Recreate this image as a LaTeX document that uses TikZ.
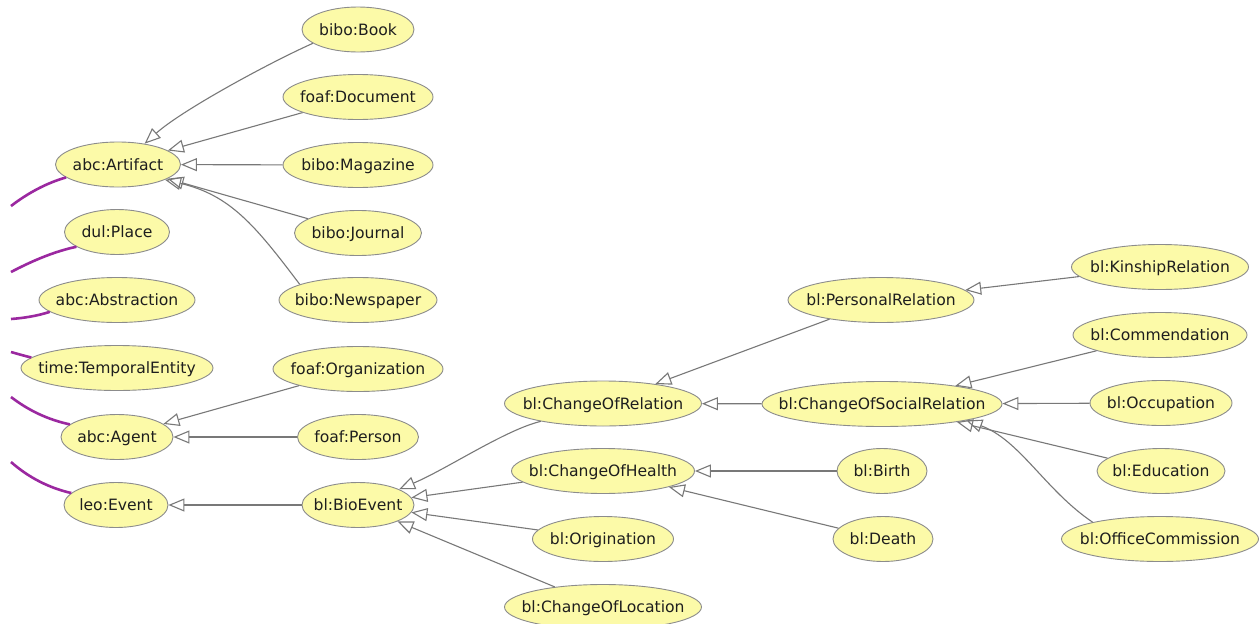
\documentclass[tikz,border=0pt]{standalone}
\usepackage{fontspec}
\newfontfamily\lblfont{DejaVu Sans}
\usetikzlibrary{shapes.geometric,arrows.meta}
\definecolor{ellfill}{RGB}{252,250,168}
\definecolor{ellline}{RGB}{140,140,140}
\definecolor{edgegray}{RGB}{120,120,120}
\definecolor{supc}{RGB}{155,40,160}
\definecolor{txt}{RGB}{30,30,30}
\newcommand\zw[1]{\hbox to 0pt{\hss#1\hss}}
\begin{document}
\begin{tikzpicture}[x=1pt,y=-1pt,
 cls/.style={ellipse, draw=ellline, fill=ellfill, line width=0.9pt, minimum height=45pt, inner sep=0pt, text height=11.4pt, text depth=0pt, text=txt, font=\lblfont\fontsize{15.6pt}{18pt}\selectfont},
 isa/.style={draw=edgegray, line width=1.1pt, -{Triangle[open,length=16pt,width=13pt]}},
 link/.style={draw=supc, line width=2.6pt},
]
\useasboundingbox (0,0) rectangle (1259,624);
\clip (0,0) rectangle (1259,624);
\fill[white] (0,0) rectangle (1259,624);

% nodes
\node[cls, minimum width=112pt] (book) at (358,29.5) {\zw{bibo:Book}};
\node[cls, minimum width=150pt] (doc) at (358,97) {\zw{foaf:Document}};
\node[cls, minimum width=150pt] (mag) at (358,165) {\zw{bibo:Magazine}};
\node[cls, minimum width=127pt] (jour) at (358,233) {\zw{bibo:Journal}};
\node[cls, minimum width=158pt] (news) at (358,300) {\zw{bibo:Newspaper}};
\node[cls, minimum width=125pt] (art) at (118,164.5) {\zw{abc:Artifact}};
\node[cls, minimum width=105pt] (place) at (117,232) {\zw{dul:Place}};
\node[cls, minimum width=156pt] (abs) at (117,300) {\zw{abc:Abstraction}};
\node[cls, minimum width=192pt] (temp) at (117,368) {\zw{time:TemporalEntity}};
\node[cls, minimum width=112pt] (agent) at (117,437) {\zw{abc:Agent}};
\node[cls, minimum width=104pt] (event) at (116,505) {\zw{leo:Event}};
\node[cls, minimum width=170pt] (org) at (358,369) {\zw{foaf:Organization}};
\node[cls, minimum width=121pt] (person) at (358,437) {\zw{foaf:Person}};
\node[cls, minimum width=112pt] (bio) at (358,505) {\zw{bl:BioEvent}};
\node[cls, minimum width=197pt] (cor) at (603,403.5) {\zw{bl:ChangeOfRelation}};
\node[cls, minimum width=183pt] (coh) at (603,471) {\zw{bl:ChangeOfHealth}};
\node[cls, minimum width=141pt] (orig) at (603,539) {\zw{bl:Origination}};
\node[cls, minimum width=197pt] (col) at (603,607) {\zw{bl:ChangeOfLocation}};
\node[cls, minimum width=177pt] (kin) at (1160,267) {\zw{bl:KinshipRelation}};
\node[cls, minimum width=186pt] (pers) at (881,300) {\zw{bl:PersonalRelation}};
\node[cls, minimum width=174pt] (comm) at (1160,335) {\zw{bl:Commendation}};
\node[cls, minimum width=240pt] (csr) at (882,404) {\zw{bl:ChangeOfSocialRelation}};
\node[cls, minimum width=142pt] (occ) at (1161,403) {\zw{bl:Occupation}};
\node[cls, minimum width=90pt] (birth) at (882,471) {\zw{bl:Birth}};
\node[cls, minimum width=128pt] (edu) at (1161,471) {\zw{bl:Education}};
\node[cls, minimum width=100pt] (death) at (883,539) {\zw{bl:Death}};
\node[cls, minimum width=197pt] (oc) at (1160,539) {\zw{bl:OfficeCommission}};

% subclass edges
\path[isa] (book.197) .. controls (267.7,63.5) and (181.3,110.6) .. (art.38);
\path[isa] (doc) -- (art);
\path[isa] (mag) -- (art);
\path[isa] (jour) -- (art);
\path[isa] (news.165) .. controls (255,225) and (230,195) .. (art.-18);
\path[isa] (org) -- (agent);
\path[isa] (person) -- (agent);
\path[isa] (bio) -- (event);
\path[isa] (cor.196) .. controls (505,430) and (447,469) .. (bio.21);
\path[isa] (coh) -- (bio);
\path[isa] (orig) -- (bio);
\path[isa] (col) -- (bio);
\path[isa] (pers) -- (cor);
\path[isa] (csr) -- (cor);
\path[isa] (kin) -- (pers);
\path[isa] (comm) -- (csr);
\path[isa] (occ) -- (csr);
\path[isa] (edu) -- (csr);
\path[isa] (oc.166) .. controls (1045,490) and (1020,440) .. (csr.-11);
\path[isa] (birth) -- (coh);
\path[isa] (death) -- (coh);

% purple links from the left
\coordinate (s1) at (11,206);
\coordinate (s2) at (11,272);
\coordinate (s3) at (11,319);
\coordinate (s4) at (11,352);
\coordinate (s5) at (11,397);
\coordinate (s6) at (11,462);
\draw[link] (s1) .. controls (28,193) and (46.5,183) .. (art.194);
\draw[link] (s2) .. controls (32,261) and (54,251.5) .. (place.200);
\draw[link] (s3) .. controls (24,318) and (37,316) .. (abs.190);
\draw[link] (s4) .. controls (18,354) and (25,356) .. (temp.173);
\draw[link] (s5) .. controls (28.7,410.6) and (48.3,419.8) .. (agent.165);
\draw[link] (s6) .. controls (28.7,477.6) and (49.2,488) .. (event.165);
\end{tikzpicture}
\end{document}
